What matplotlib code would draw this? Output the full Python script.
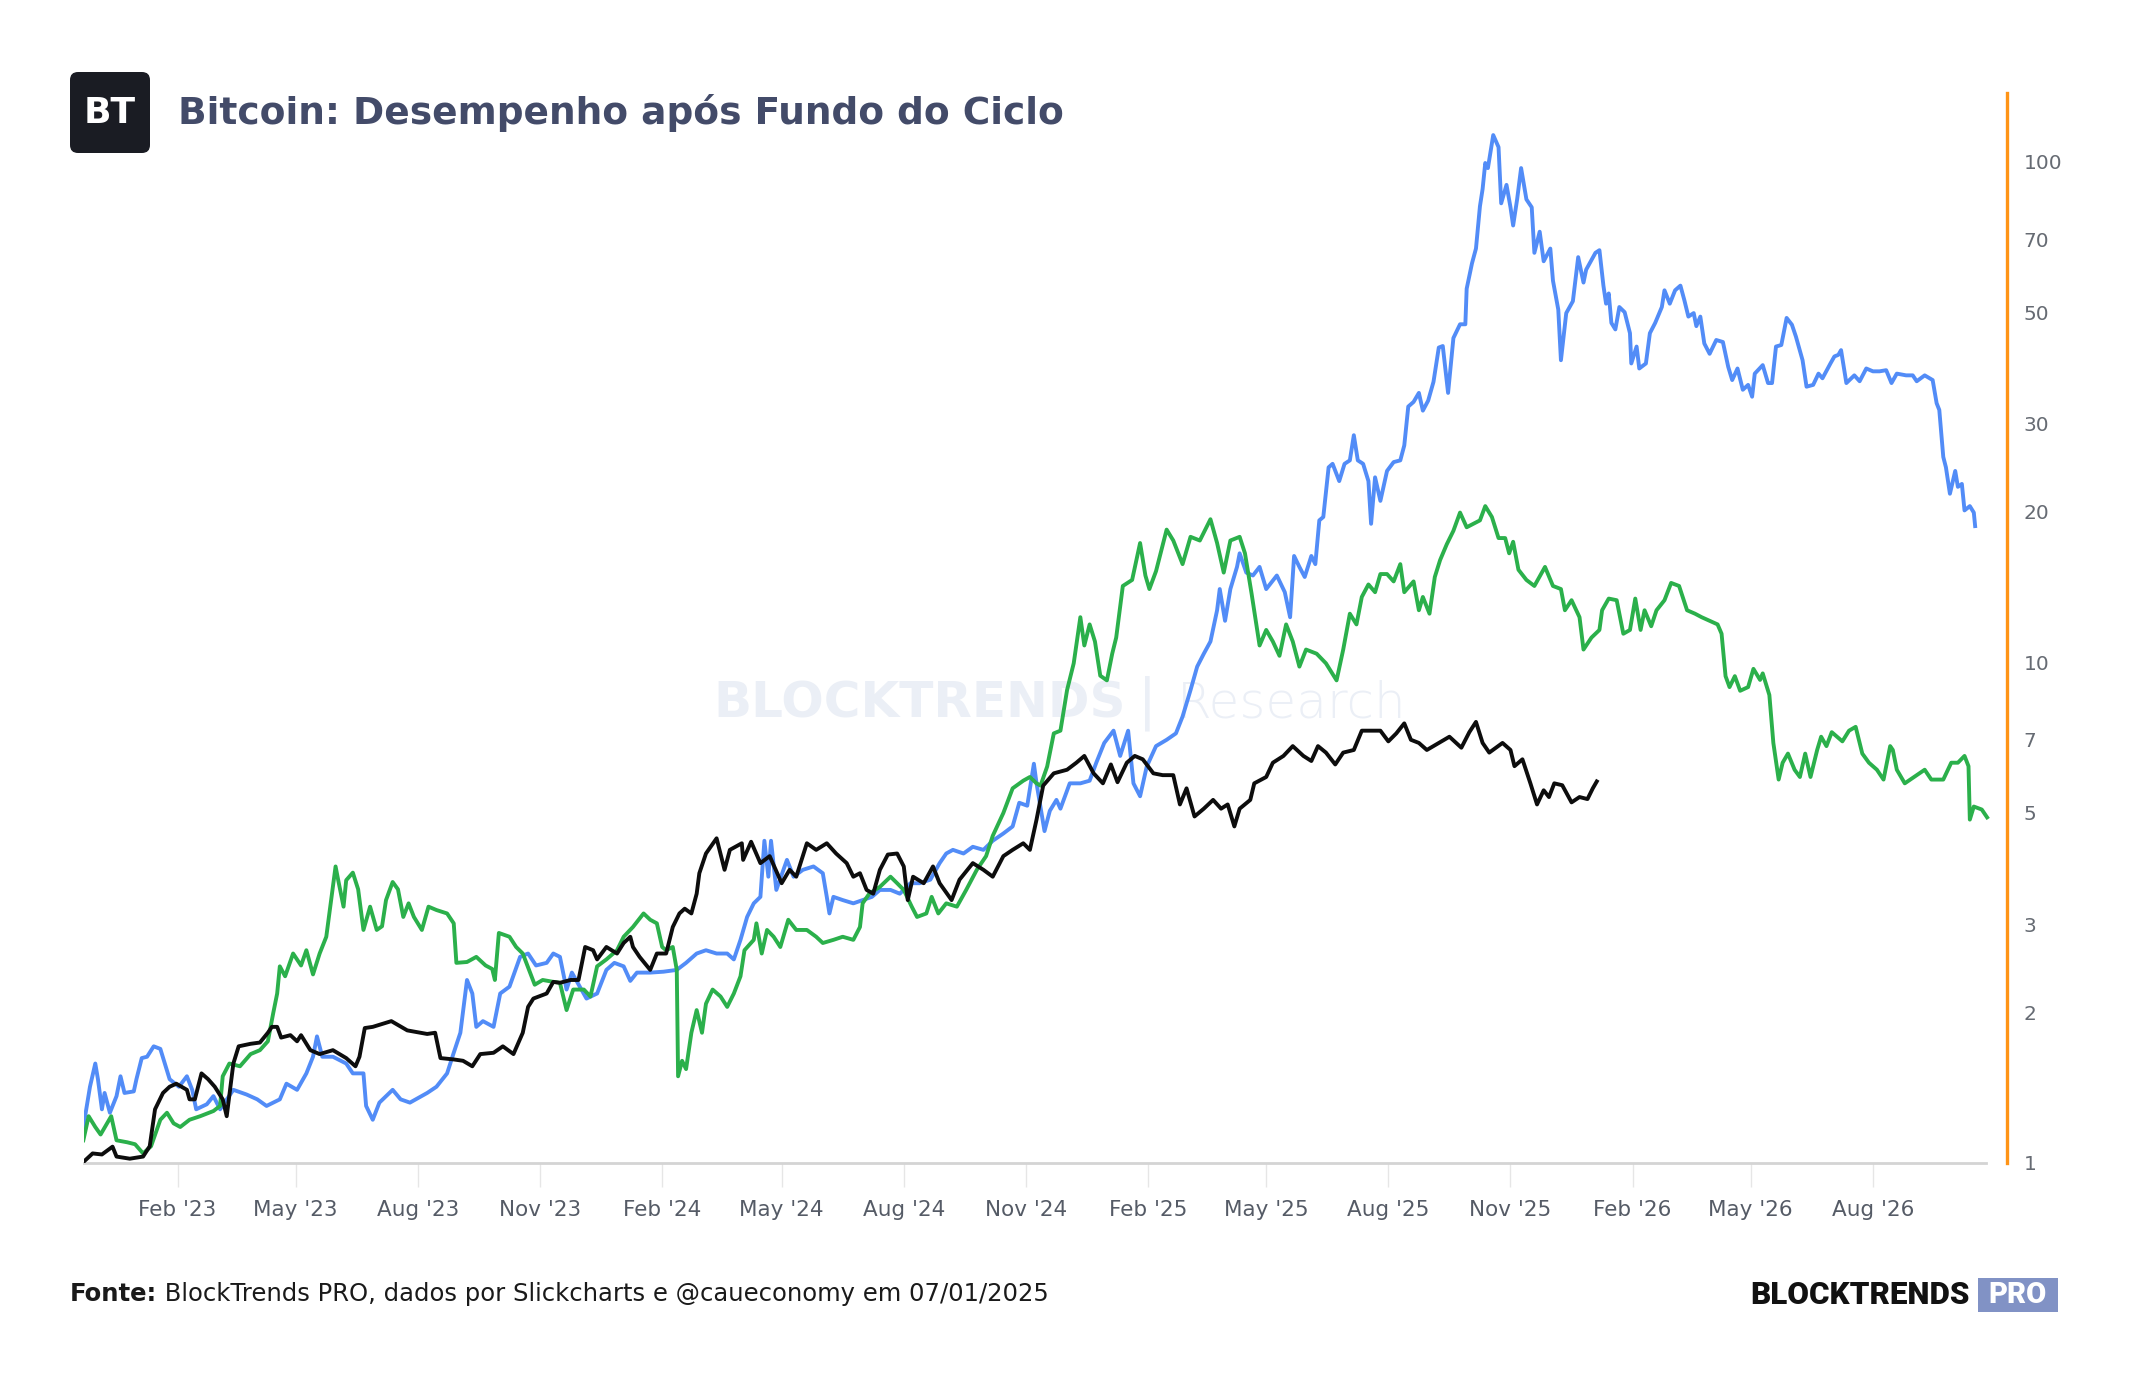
import numpy as np
import matplotlib
matplotlib.use("Agg")
import matplotlib.pyplot as plt
import matplotlib.dates as mdates
from matplotlib.patches import FancyBboxPatch, Rectangle
from matplotlib.ticker import NullLocator

# days after the cycle bottom (2022-11-21) and multiple of the bottom price
black_days = [2, 8, 15, 23, 26, 36, 46, 51, 55, 61, 66, 71, 79, 81, 85, 90, 95, 100, 106, 109,
              114, 118, 127, 134, 140, 143, 147, 150, 157, 162, 165, 172, 179, 189, 199, 206, 209, 213, 219, 233,
              245, 260, 266, 270, 280, 287, 294, 300, 310, 317, 325, 332, 336, 340, 350, 355,
              360, 368, 374, 379, 385, 388, 395, 403, 408, 413, 415, 420, 428, 433, 440, 445, 450, 454, 459, 463,
              465, 470, 478, 484, 488, 497, 498, 504, 511, 518, 527, 533, 538, 546, 553, 561, 568, 576, 581, 586,
              591, 596, 601, 607, 614, 619, 622, 626, 634, 641, 646, 655, 661, 671, 679, 686, 694, 701, 709, 714, 719,
              724, 732, 742, 749, 755, 762, 769, 775, 780, 787, 793, 799, 807, 814, 822, 827, 832, 838, 845, 852,
              858, 863, 868, 872, 880, 883, 892, 897, 905, 912, 920, 926, 931, 937, 944, 950, 958, 964, 973, 978,
              984, 990,
              996, 1001, 1007, 1013, 1022, 1030, 1039, 1045, 1050, 1055, 1060, 1065, 1070, 1076, 1079, 1085, 1091,
              1096, 1101, 1105, 1109, 1115, 1122, 1128, 1134, 1138, 1141]
black_vals = [1.01, 1.045, 1.04, 1.078, 1.03, 1.02, 1.03, 1.08, 1.28, 1.38, 1.42, 1.44, 1.40, 1.34, 1.34, 1.51, 1.47, 1.42, 1.34, 1.24,
              1.58, 1.71, 1.73, 1.74, 1.82, 1.87, 1.87, 1.78, 1.80, 1.75, 1.80, 1.68, 1.65, 1.68, 1.62, 1.56, 1.63, 1.86, 1.87, 1.92,
              1.84, 1.81, 1.82, 1.62, 1.61, 1.60, 1.56, 1.65, 1.66, 1.71, 1.65, 1.82, 2.05, 2.13, 2.18, 2.30,
              2.29, 2.32, 2.32, 2.70, 2.66, 2.55, 2.70, 2.62, 2.75, 2.83, 2.70, 2.58, 2.43, 2.62, 2.62, 2.96, 3.15, 3.22, 3.15, 3.45,
              3.79, 4.15, 4.45, 3.85, 4.22, 4.35, 4.03, 4.38, 3.97, 4.10, 3.62, 3.85, 3.73, 4.35, 4.22, 4.35, 4.15, 3.97, 3.73, 3.79,
              3.51, 3.45, 3.85, 4.13, 4.15, 3.91, 3.35, 3.73, 3.62, 3.91, 3.62, 3.35, 3.68, 3.97, 3.85, 3.73, 4.10, 4.22, 4.35, 4.22, 4.85,
              5.67, 6.0, 6.1, 6.3, 6.5, 6.0, 5.73, 6.25, 5.76, 6.3, 6.5, 6.4, 6.0, 5.95, 5.95, 5.2, 5.6, 4.92, 5.1, 5.31,
              5.1, 5.2, 4.7, 5.1, 5.31, 5.73, 5.9, 6.3, 6.5, 6.8, 6.5, 6.35, 6.8, 6.6, 6.25, 6.6, 6.68, 7.3, 7.3, 7.3,
              6.95, 7.21,
              7.55, 7.0, 6.9, 6.68, 6.9, 7.1, 6.75, 7.25, 7.6, 6.9, 6.6, 6.75, 6.9, 6.68, 6.2, 6.4, 5.73,
              5.2, 5.55, 5.38, 5.73, 5.68, 5.25, 5.38, 5.33, 5.6, 5.78]

blue_days = [1, 6, 10, 12, 15, 17, 21, 26, 29, 32, 39, 41, 45, 49, 54, 59, 63, 66, 73, 79,
             83, 86, 94, 99, 104, 114, 124, 132, 139, 149, 154, 162, 169, 174, 177, 181, 189, 199, 204, 212,
             214, 219, 224, 234, 240, 247, 260, 267, 275, 280, 285, 290, 294, 297, 302, 310, 315, 322, 330, 336,
             342, 350, 355,
             360, 365, 369, 375, 380, 388, 395, 401, 408, 413, 418, 428, 438, 448, 455, 463, 470, 478, 486, 491,
             496, 501, 506, 511, 514, 517, 519, 523, 531, 536, 543, 551, 558, 561, 563, 566, 573, 581, 588, 595,
             601, 609, 616, 624, 631, 639, 646, 651, 656, 664, 671, 679, 686, 694, 701, 706, 712, 717, 719,
             725, 729, 734, 737, 744, 752, 759, 764, 770, 777, 782, 788, 792, 797, 802, 809, 817, 824, 829, 835,
             840, 845, 850, 855, 857, 861, 865, 870, 872, 877, 882, 887, 892, 900,
             906, 910, 913, 917, 921, 926, 929, 932, 935, 939, 942, 947, 951, 955, 958, 961, 965, 969, 971, 974,
             978, 983, 988, 993, 996, 999, 1003, 1007, 1010, 1014, 1018, 1022, 1025, 1029, 1033, 1038, 1042, 1043, 1047, 1050,
             1053, 1055, 1057, 1059, 1063, 1067, 1069, 1073, 1076, 1078, 1081, 1084, 1088, 1092, 1094, 1098, 1101, 1106, 1108, 1112,
             1114, 1118, 1123, 1127, 1131, 1133, 1140,
             1143, 1146, 1148, 1150, 1152, 1155, 1158, 1162, 1166, 1167, 1171, 1173, 1178, 1181, 1185, 1190, 1192, 1196, 1200, 1204,
             1207, 1210, 1214, 1216, 1219, 1222, 1226, 1231, 1236, 1240, 1243, 1247, 1251, 1255, 1258, 1260, 1266, 1270, 1273, 1276,
             1280, 1284, 1288, 1291, 1296, 1299, 1304, 1308, 1311, 1317, 1320, 1323, 1325, 1329, 1335, 1339, 1344, 1349, 1354, 1359,
             1363, 1367, 1374, 1379, 1382, 1388, 1394, 1397, 1399, 1402, 1404, 1407, 1411, 1413, 1416, 1418, 1422, 1425, 1426]
blue_vals = [1.18, 1.42, 1.58, 1.47, 1.28, 1.38, 1.26, 1.36, 1.49, 1.38, 1.39, 1.47, 1.62, 1.63, 1.71, 1.69, 1.56, 1.47, 1.42, 1.49,
             1.40, 1.28, 1.31, 1.36, 1.28, 1.40, 1.37, 1.34, 1.30, 1.34, 1.44, 1.40, 1.51, 1.63, 1.79, 1.63, 1.63, 1.58, 1.51, 1.51,
             1.30, 1.22, 1.32, 1.40, 1.34, 1.32, 1.38, 1.42, 1.51, 1.66, 1.82, 2.32, 2.18, 1.87, 1.92, 1.87, 2.18, 2.25, 2.58, 2.62,
             2.48, 2.51, 2.62,
             2.58, 2.22, 2.40, 2.25, 2.13, 2.18, 2.43, 2.51, 2.47, 2.31, 2.40, 2.40, 2.41, 2.43, 2.51, 2.62, 2.66, 2.62, 2.62, 2.55,
             2.79, 3.10, 3.30, 3.40, 4.40, 3.73, 4.40, 3.51, 4.03, 3.73, 3.85, 3.91, 3.79, 3.40, 3.15, 3.40, 3.35, 3.30, 3.35, 3.40,
             3.51, 3.51, 3.45, 3.62, 3.62, 3.68, 3.97, 4.15, 4.22, 4.15, 4.28, 4.22, 4.40, 4.55, 4.70, 5.24, 5.17, 6.27, 5.73,
             4.6, 5.05, 5.31, 5.1, 5.73, 5.73, 5.8, 6.3, 6.9, 7.3, 6.5, 7.3, 5.73, 5.4, 6.19, 6.8, 7.0, 7.21, 7.79, 8.8,
             9.8, 10.4, 11.0, 12.7, 14.0, 12.1, 14.0, 15.5, 16.5, 15.1, 14.9, 15.5, 14.0, 14.9,
             13.8, 12.3, 16.3, 15.5, 14.8, 16.3, 15.7, 19.2, 19.5, 24.5, 24.9, 23.0, 24.9, 25.3, 28.4, 25.3, 24.9, 23.0, 18.9, 23.4,
             21.0, 24.1, 25.1, 25.3, 27.1, 32.4, 33.1, 34.5, 31.8, 33.3, 36.3, 42.5, 42.8, 34.5, 44.4, 47.3, 47.3, 55.7, 62.6, 67.0,
             81.4, 88.1, 99.3, 97, 112.9, 106.8, 82.5, 89.8, 81, 74.5, 84, 97, 84, 81, 65.7, 72.4, 63.2, 67, 57.8, 50.6,
             40.1, 49.8, 52.6, 64.4, 57.3, 60.8, 65.7,
             66.5, 56.5, 52, 54.5, 47.6, 46.2, 51.2, 50.0, 45.4, 39.5, 42.7, 38.6, 39.5, 45.4, 47.6, 51.2, 55.3, 52, 55.3, 56.5,
             52.8, 49, 49.8, 46.9, 49, 43.3, 41.3, 44.0, 43.6, 38.9, 36.6, 38.6, 35.0, 35.8, 33.9, 37.7, 39.2, 36.1, 36.1, 42.7,
             43.0, 48.7, 47.2, 44.7, 40.1, 35.5, 35.8, 37.7, 36.9, 39.5, 40.8, 41.1, 42.0, 36.1, 37.4, 36.4, 38.6, 38.1, 38.1, 38.3,
             36.1, 37.7, 37.4, 37.4, 36.4, 37.4, 36.6, 32.9, 31.9, 25.7, 24.5, 21.7, 24.1, 22.4, 22.7, 20.1, 20.5, 19.9, 18.7]

green_days = [1, 5, 10, 14, 22, 26, 34, 40, 46, 52, 59, 64, 69, 74, 81, 89, 99, 104, 106, 111,
              119, 127, 134, 140, 144, 147, 149, 153, 159, 165, 169, 174, 179, 184, 187, 191, 193, 197, 199, 204,
              208, 212, 217, 222, 226, 229, 234, 238, 242, 246, 250, 256, 261, 267, 275, 280, 282, 290, 297, 304,
              309, 311, 314, 322, 327, 332, 337, 341, 347, 355,
              360, 365, 370, 378, 383, 388, 395, 403, 408, 415, 423, 428, 433, 437, 440, 445, 448, 449, 452, 455,
              459, 463, 467, 470, 475, 481, 486, 491, 496, 499, 506, 508, 512, 516, 521, 526, 532, 538, 546, 553,
              558, 566, 573, 581, 586, 588, 593, 601, 609, 614, 619, 625, 629, 636, 640, 645, 651, 659, 666, 674,
              681, 686, 694, 701, 709, 714, 719,
              722, 727, 732, 737, 742, 747, 752, 755, 759, 763, 767, 772, 776, 779, 784, 791, 797, 801, 804, 809,
              817, 822, 829, 835, 842, 850, 855, 860, 865, 872, 876, 881, 887, 892, 897,
              902, 907, 912, 917, 922, 930, 937, 945, 950, 955, 960, 964, 969, 974, 978, 983, 988, 993, 996, 1003,
              1007, 1010, 1015, 1019, 1023, 1028, 1033, 1038, 1043, 1048, 1053, 1057, 1062, 1067, 1072, 1075, 1078, 1082, 1088, 1094,
              1102, 1108, 1114, 1117, 1122, 1128, 1131, 1137, 1143, 1145, 1150, 1156, 1161, 1166, 1170, 1174, 1177, 1182, 1186, 1192,
              1197, 1203, 1209, 1215, 1220, 1226, 1232, 1235, 1238, 1241, 1245, 1249, 1255, 1259, 1264, 1266, 1271, 1274, 1278, 1281,
              1285, 1290, 1294, 1298, 1302, 1307, 1310, 1314, 1318, 1326, 1331, 1336, 1341, 1346, 1352, 1357, 1362, 1364, 1367, 1373,
              1380, 1388, 1393, 1402, 1408, 1413, 1418, 1421, 1422, 1425, 1431, 1435]
green_vals = [1.11, 1.24, 1.18, 1.14, 1.24, 1.11, 1.10, 1.09, 1.045, 1.08, 1.22, 1.26, 1.20, 1.18, 1.22, 1.24, 1.27, 1.30, 1.49, 1.58,
              1.56, 1.65, 1.68, 1.75, 1.99, 2.18, 2.47, 2.36, 2.62, 2.48, 2.66, 2.38, 2.62, 2.83, 3.25, 3.91, 3.67, 3.25, 3.67, 3.80,
              3.52, 2.92, 3.25, 2.92, 2.97, 3.35, 3.64, 3.52, 3.10, 3.30, 3.10, 2.92, 3.25, 3.20, 3.15, 3.01, 2.51, 2.52, 2.58, 2.48,
              2.44, 2.32, 2.88, 2.83, 2.70, 2.62, 2.42, 2.27, 2.32, 2.30,
              2.29, 2.02, 2.22, 2.22, 2.15, 2.47, 2.55, 2.66, 2.83, 2.96, 3.15, 3.06, 3.01, 2.70, 2.66, 2.70, 2.43, 1.49, 1.60, 1.54,
              1.82, 2.02, 1.82, 2.08, 2.22, 2.15, 2.05, 2.18, 2.36, 2.66, 2.79, 3.01, 2.62, 2.92, 2.83, 2.70, 3.06, 2.92, 2.92, 2.83,
              2.75, 2.79, 2.83, 2.79, 2.96, 3.30, 3.45, 3.56, 3.73, 3.62, 3.51, 3.25, 3.10, 3.15, 3.40, 3.15, 3.30, 3.25, 3.51, 3.85,
              4.10, 4.50, 5.00, 5.60, 5.80, 5.90, 5.73,
              5.67, 6.19, 7.21, 7.3, 8.8, 9.95, 12.3, 10.8, 11.9, 11.0, 9.4, 9.2, 10.4, 11.2, 14.2, 14.6, 17.3, 14.9, 14.0, 15.2,
              18.4, 17.5, 15.7, 17.8, 17.5, 19.3, 17.3, 15.1, 17.5, 17.8, 16.5, 13.7, 10.8, 11.6, 11.0,
              10.3, 11.9, 11.0, 9.8, 10.6, 10.4, 9.95, 9.2, 10.6, 12.5, 11.9, 13.5, 14.3, 13.8, 15.0, 15.0, 14.5, 15.7, 13.8, 14.5,
              12.7, 13.5, 12.5, 14.8, 16.0, 17.2, 18.3, 19.9, 18.6, 18.9, 19.2, 20.5, 19.5, 17.7, 17.7, 16.5, 17.4, 15.3, 14.6, 14.2,
              15.5, 14.2, 14.0, 12.7, 13.3, 12.3, 10.6, 11.2, 11.6, 12.7, 13.4, 13.3, 11.4, 11.6, 13.4, 11.6, 12.7, 11.8, 12.7, 13.3,
              14.4, 14.2, 12.7, 12.5, 12.3, 12.1, 11.9, 11.4, 9.38, 8.92, 9.38, 8.77, 8.92, 9.7, 9.22, 9.5, 8.6, 6.9, 5.83, 6.3,
              6.57, 6.1, 5.9, 6.57, 5.9, 6.68, 7.1, 6.8, 7.25, 6.95, 7.3, 7.43, 6.57, 6.3, 6.1, 5.83, 6.8, 6.68, 6.1, 5.73,
              5.9, 6.1, 5.83, 5.83, 6.3, 6.3, 6.5, 6.2, 4.85, 5.15, 5.08, 4.9]

y_ticks = [1, 2, 3, 5, 7, 10, 20, 30, 50, 70, 100]
x_tick_dates = ["2023-02-01", "2023-05-01", "2023-08-01", "2023-11-01",
                "2024-02-01", "2024-05-01", "2024-08-01", "2024-11-01",
                "2025-02-01", "2025-05-01", "2025-08-01", "2025-11-01",
                "2026-02-01", "2026-05-01", "2026-08-01"]

title = "Bitcoin: Desempenho após Fundo do Ciclo"
source_bold = "Fonte:"
source_text = " BlockTrends PRO, dados por Slickcharts e @caueconomy em 07/01/2025"

W, H = 2144, 1400
fig = plt.figure(figsize=(W / 100, H / 100), dpi=100)
fig.patch.set_facecolor("white")

ax = fig.add_axes([84 / W, 1 - 1163 / H, (2007 - 84) / W, (1163 - 93) / H])
base = mdates.date2num(np.datetime64("2022-11-21"))

def to_x(days):
    return base + np.array(days, dtype=float)

ax.plot(to_x(blue_days), blue_vals, color="#528CF7", lw=2.8, zorder=3, solid_joinstyle="round")
ax.plot(to_x(green_days), green_vals, color="#2BB04B", lw=2.8, zorder=4, solid_joinstyle="round")
ax.plot(to_x(black_days), black_vals, color="#0D0D0D", lw=2.8, zorder=5, solid_joinstyle="round")

ax.set_yscale("log")
ax.set_ylim(1, 137)
ax.set_xlim(base + 1.5, base + 1450)

ax.set_xticks([mdates.date2num(np.datetime64(d)) for d in x_tick_dates])
ax.xaxis.set_major_formatter(mdates.DateFormatter("%b '%y"))
ax.tick_params(axis="x", length=17, width=1, color="#E6E6E6", pad=10,
               labelsize=15.5, labelcolor="#555B66")

ax.yaxis.tick_right()
ax.set_yticks(y_ticks)
ax.set_yticklabels([str(t) for t in y_ticks])
ax.yaxis.set_minor_locator(NullLocator())
ax.tick_params(axis="y", length=0, pad=12, labelsize=14.5, labelcolor="#666B73")

for s in ["top", "left"]:
    ax.spines[s].set_visible(False)
ax.spines["right"].set_color("#FF9416")
ax.spines["right"].set_linewidth(2.4)
ax.spines["bottom"].set_color("#D4D4D4")
ax.spines["bottom"].set_linewidth(2)
ax.spines["bottom"].set_bounds(base + 1.5, base + 1434)
ax.set_facecolor("none")

# watermark
ax.text(920 / W, 1 - 703 / H, "BLOCKTRENDS", transform=fig.transFigure, fontsize=36,
        weight="bold", color="#EBEFF6", ha="center", va="center", zorder=0)
ax.text(1147 / W, 1 - 703 / H, "|", transform=fig.transFigure, fontsize=40,
        color="#EBEFF6", ha="center", va="center", zorder=0)
ax.text(1292 / W, 1 - 703 / H, "Research", transform=fig.transFigure, fontsize=36,
        weight="light", color="#EBEFF6", ha="center", va="center", zorder=0)

# header logo + title
logo = FancyBboxPatch((0.70, (H - 153) / 100), 0.80, 0.81,
                      boxstyle="round,pad=0,rounding_size=0.08",
                      transform=fig.dpi_scale_trans, facecolor="#1A1C23", edgecolor="none")
fig.patches.append(logo)
fig.text(110 / W, 1 - 113 / H, "BT", fontsize=26, weight="bold", color="white",
         ha="center", va="center")
fig.text(178 / W, 1 - 113 / H, title, fontsize=27, weight="bold", color="#434B69",
         ha="left", va="center")

# footer
t = fig.text(70 / W, 1 - 1301 / H, source_bold, fontsize=17.5, weight="bold",
             color="#1A1A1A", ha="left", va="baseline")
ax.annotate(source_text, xy=(1, 0), xycoords=t, fontsize=17.5, color="#1A1A1A",
            ha="left", va="bottom", annotation_clip=False)

fig.text(1970 / W, 1 - 1295 / H, "BLOCKTRENDS", fontsize=22.5, weight="black",
         family="Roboto", color="#111111", ha="right", va="center")
pro = Rectangle((1978 / W, 1 - 1312 / H), 80 / W, 34 / H, transform=fig.transFigure,
                facecolor="#8192C5", edgecolor="none")
fig.patches.append(pro)
fig.text(2018 / W, 1 - 1295 / H, "PRO", fontsize=21, weight="black", family="Roboto",
         color="white", ha="center", va="center")

fig.savefig("out.png", dpi=100, facecolor="white")
